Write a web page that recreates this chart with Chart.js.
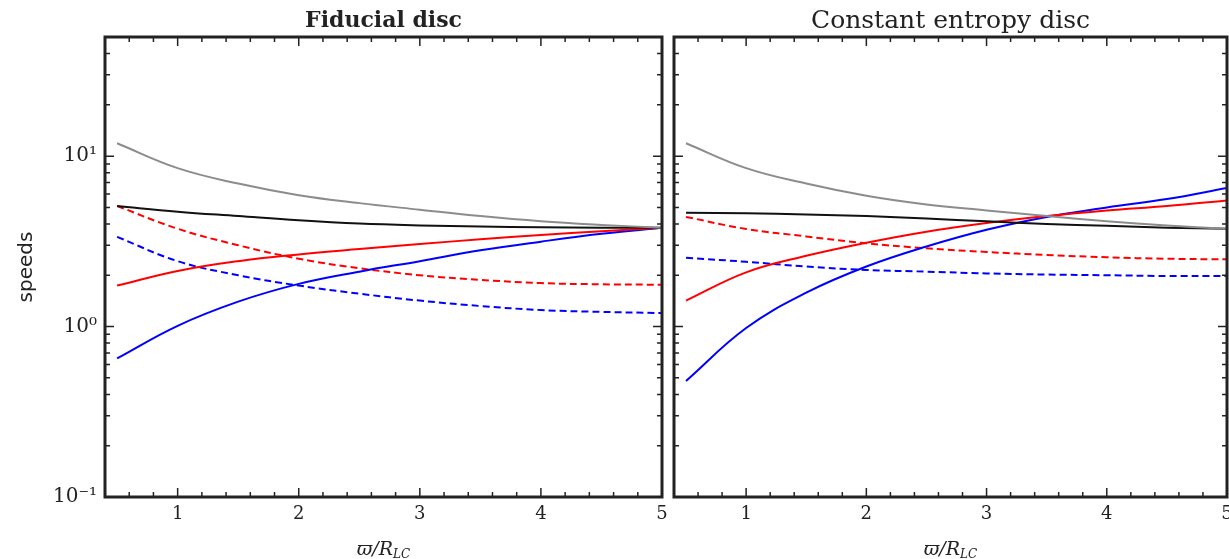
<!DOCTYPE html>
<html>
<head>
<meta charset="utf-8">
<script src="https://cdn.jsdelivr.net/npm/chart.js@4"></script>
<style>
  body { margin: 0; background: #fff; }
  #wrap { position: relative; width: 1229px; height: 559px; overflow: hidden; }
  canvas { position: absolute; top: 0; }
</style>
</head>
<body>
<div id="wrap">
  <canvas id="left" width="700" height="559" style="left:0"></canvas>
  <canvas id="right" width="565" height="559" style="left:664px"></canvas>
</div>
<script>
// radius values (varpi / R_LC) at which the curves were read
const xs = [0.5, 1, 1.5, 2, 2.5, 3, 3.5, 4, 4.5, 5];

// Fiducial disc
const fidGray     = [11.9, 8.5, 6.9, 5.9, 5.3, 4.85, 4.45, 4.15, 3.95, 3.8];
const fidBlack    = [5.1, 4.72, 4.45, 4.2, 4.02, 3.92, 3.86, 3.82, 3.8, 3.8];
const fidRed      = [1.74, 2.12, 2.42, 2.65, 2.85, 3.05, 3.25, 3.45, 3.63, 3.8];
const fidBlue     = [0.65, 1.01, 1.4, 1.78, 2.1, 2.42, 2.8, 3.15, 3.5, 3.8];
const fidRedDash  = [5.1, 3.75, 3.0, 2.5, 2.2, 2.0, 1.88, 1.8, 1.77, 1.76];
const fidBlueDash = [3.36, 2.42, 2.0, 1.74, 1.56, 1.42, 1.32, 1.25, 1.22, 1.2];

// Constant entropy disc
const ceGray     = [11.9, 8.5, 6.9, 5.85, 5.2, 4.8, 4.45, 4.15, 3.92, 3.75];
const ceBlack    = [4.65, 4.62, 4.55, 4.45, 4.3, 4.15, 4.0, 3.9, 3.8, 3.75];
const ceRed      = [1.42, 2.08, 2.6, 3.1, 3.6, 4.05, 4.45, 4.8, 5.1, 5.5];
const ceBlue     = [0.48, 0.98, 1.58, 2.25, 2.95, 3.7, 4.4, 5.0, 5.6, 6.5];
const ceRedDash  = [4.4, 3.74, 3.38, 3.08, 2.88, 2.74, 2.63, 2.55, 2.5, 2.48];
const ceBlueDash = [2.53, 2.4, 2.25, 2.15, 2.1, 2.05, 2.02, 2.0, 1.98, 1.98];

const xTicks = [1, 2, 3, 4, 5];
const yTicks = [0.1, 1, 10];
const yTickLabels = {0.1: '10⁻¹', 1: '10⁰', 10: '10¹'};

const serif = "'DejaVu Serif', serif";

function pts(ys) {
  return ys.map((y, i) => ({x: xs[i], y: y}));
}

function line(ys, color, dash) {
  return {
    data: pts(ys),
    borderColor: color,
    borderWidth: 2,
    borderDash: dash || [],
    pointRadius: 0,
    tension: 0.4,
    fill: false
  };
}

// frame + inward ticks on all four sides, plus the x title with subscript
const framePlugin = {
  id: 'frame',
  afterDatasetsDraw(chart) {
    const {ctx, chartArea: a, scales: {x, y}} = chart;
    ctx.save();
    ctx.strokeStyle = '#222';
    ctx.lineWidth = 1.5;
    ctx.beginPath();
    for (let i = 3; i <= 25; i++) {
      const v = i / 5;
      if (v < x.min || v > x.max) continue;
      const px = x.getPixelForValue(v);
      const len = Number.isInteger(v) ? 9 : 5;
      ctx.moveTo(px, a.bottom); ctx.lineTo(px, a.bottom - len);
      ctx.moveTo(px, a.top); ctx.lineTo(px, a.top + len);
    }
    for (const d of yTicks) {
      for (let k = 1; k <= 9; k++) {
        const v = d * k;
        if (v > y.max) break;
        const py = y.getPixelForValue(v);
        const len = k === 1 ? 9 : 5;
        ctx.moveTo(a.left, py); ctx.lineTo(a.left + len, py);
        ctx.moveTo(a.right, py); ctx.lineTo(a.right - len, py);
      }
    }
    ctx.stroke();
    ctx.lineWidth = 3;
    ctx.strokeRect(a.left, a.top, a.right - a.left, a.bottom - a.top);

    // x axis title: varpi / R_LC
    const cx = (a.left + a.right) / 2;
    const base = 555;
    ctx.fillStyle = '#222';
    ctx.font = 'italic 19px ' + serif;
    const main = 'ϖ/R';
    const wMain = ctx.measureText(main).width;
    ctx.font = 'italic 12px ' + serif;
    const sub = 'LC';
    const wSub = ctx.measureText(sub).width;
    const x0 = cx - (wMain + wSub) / 2;
    ctx.textBaseline = 'alphabetic';
    ctx.textAlign = 'left';
    ctx.font = 'italic 19px ' + serif;
    ctx.fillText(main, x0, base);
    ctx.font = 'italic 12px ' + serif;
    ctx.fillText(sub, x0 + wMain, base + 3);
    ctx.restore();
  }
};

function makeChart(id, title, titleFont, titlePad, sets, showY, padRight) {
  return new Chart(document.getElementById(id), {
    type: 'line',
    data: {datasets: sets},
    plugins: [framePlugin],
    options: {
      responsive: false,
      animation: false,
      layout: {padding: {left: 0, right: padRight, top: 0, bottom: 0}},
      plugins: {
        legend: {display: false},
        tooltip: {enabled: false},
        title: {
          display: true,
          text: title,
          fullSize: false,
          color: '#222',
          font: titleFont,
          padding: titlePad
        }
      },
      scales: {
        x: {
          type: 'linear',
          min: 0.4,
          max: 5,
          grid: {display: false},
          border: {display: false},
          afterBuildTicks: s => { s.ticks = xTicks.map(v => ({value: v})); },
          afterFit: s => { s.height = 62; s.paddingLeft = 0; s.paddingRight = 0; },
          ticks: {
            color: '#222',
            padding: -1,
            maxRotation: 0,
            font: {family: serif, size: 18},
            callback: v => String(v)
          }
        },
        y: {
          type: 'logarithmic',
          min: 0.1,
          max: 50,
          grid: {display: false},
          border: {display: false},
          afterBuildTicks: s => { s.ticks = yTicks.map(v => ({value: v})); },
          afterFit: s => { s.width = showY ? 105 : 10; s.paddingTop = 0; s.paddingBottom = 0; },
          ticks: {
            display: showY,
            color: '#222',
            padding: 0,
            font: {family: serif, size: 20},
            callback: v => yTickLabels[v] || ''
          },
          title: {
            display: showY,
            text: 'speeds',
            color: '#222',
            font: {family: "'DejaVu Sans', sans-serif", size: 20, lineHeight: 1.2},
            padding: {top: 15}
          }
        }
      }
    }
  });
}

makeChart('left', 'Fiducial disc',
  {family: serif, size: 22, weight: 'bold', lineHeight: '26px'},
  {top: 8, bottom: 3},
  [
    line(fidGray, '#8c8c8c'),
    line(fidBlack, '#111'),
    line(fidRed, '#ff0000'),
    line(fidBlue, '#0000ff'),
    line(fidRedDash, '#ff0000', [7, 4]),
    line(fidBlueDash, '#0000ff', [7, 4])
  ], true, 38);

makeChart('right', 'Constant entropy disc',
  {family: serif, size: 25, weight: 'normal', lineHeight: '30px'},
  {top: 6, bottom: 1},
  [
    line(ceGray, '#8c8c8c'),
    line(ceBlack, '#111'),
    line(ceRed, '#ff0000'),
    line(ceBlue, '#0000ff'),
    line(ceRedDash, '#ff0000', [7, 4]),
    line(ceBlueDash, '#0000ff', [7, 4])
  ], false, 2);
</script>
</body>
</html>
